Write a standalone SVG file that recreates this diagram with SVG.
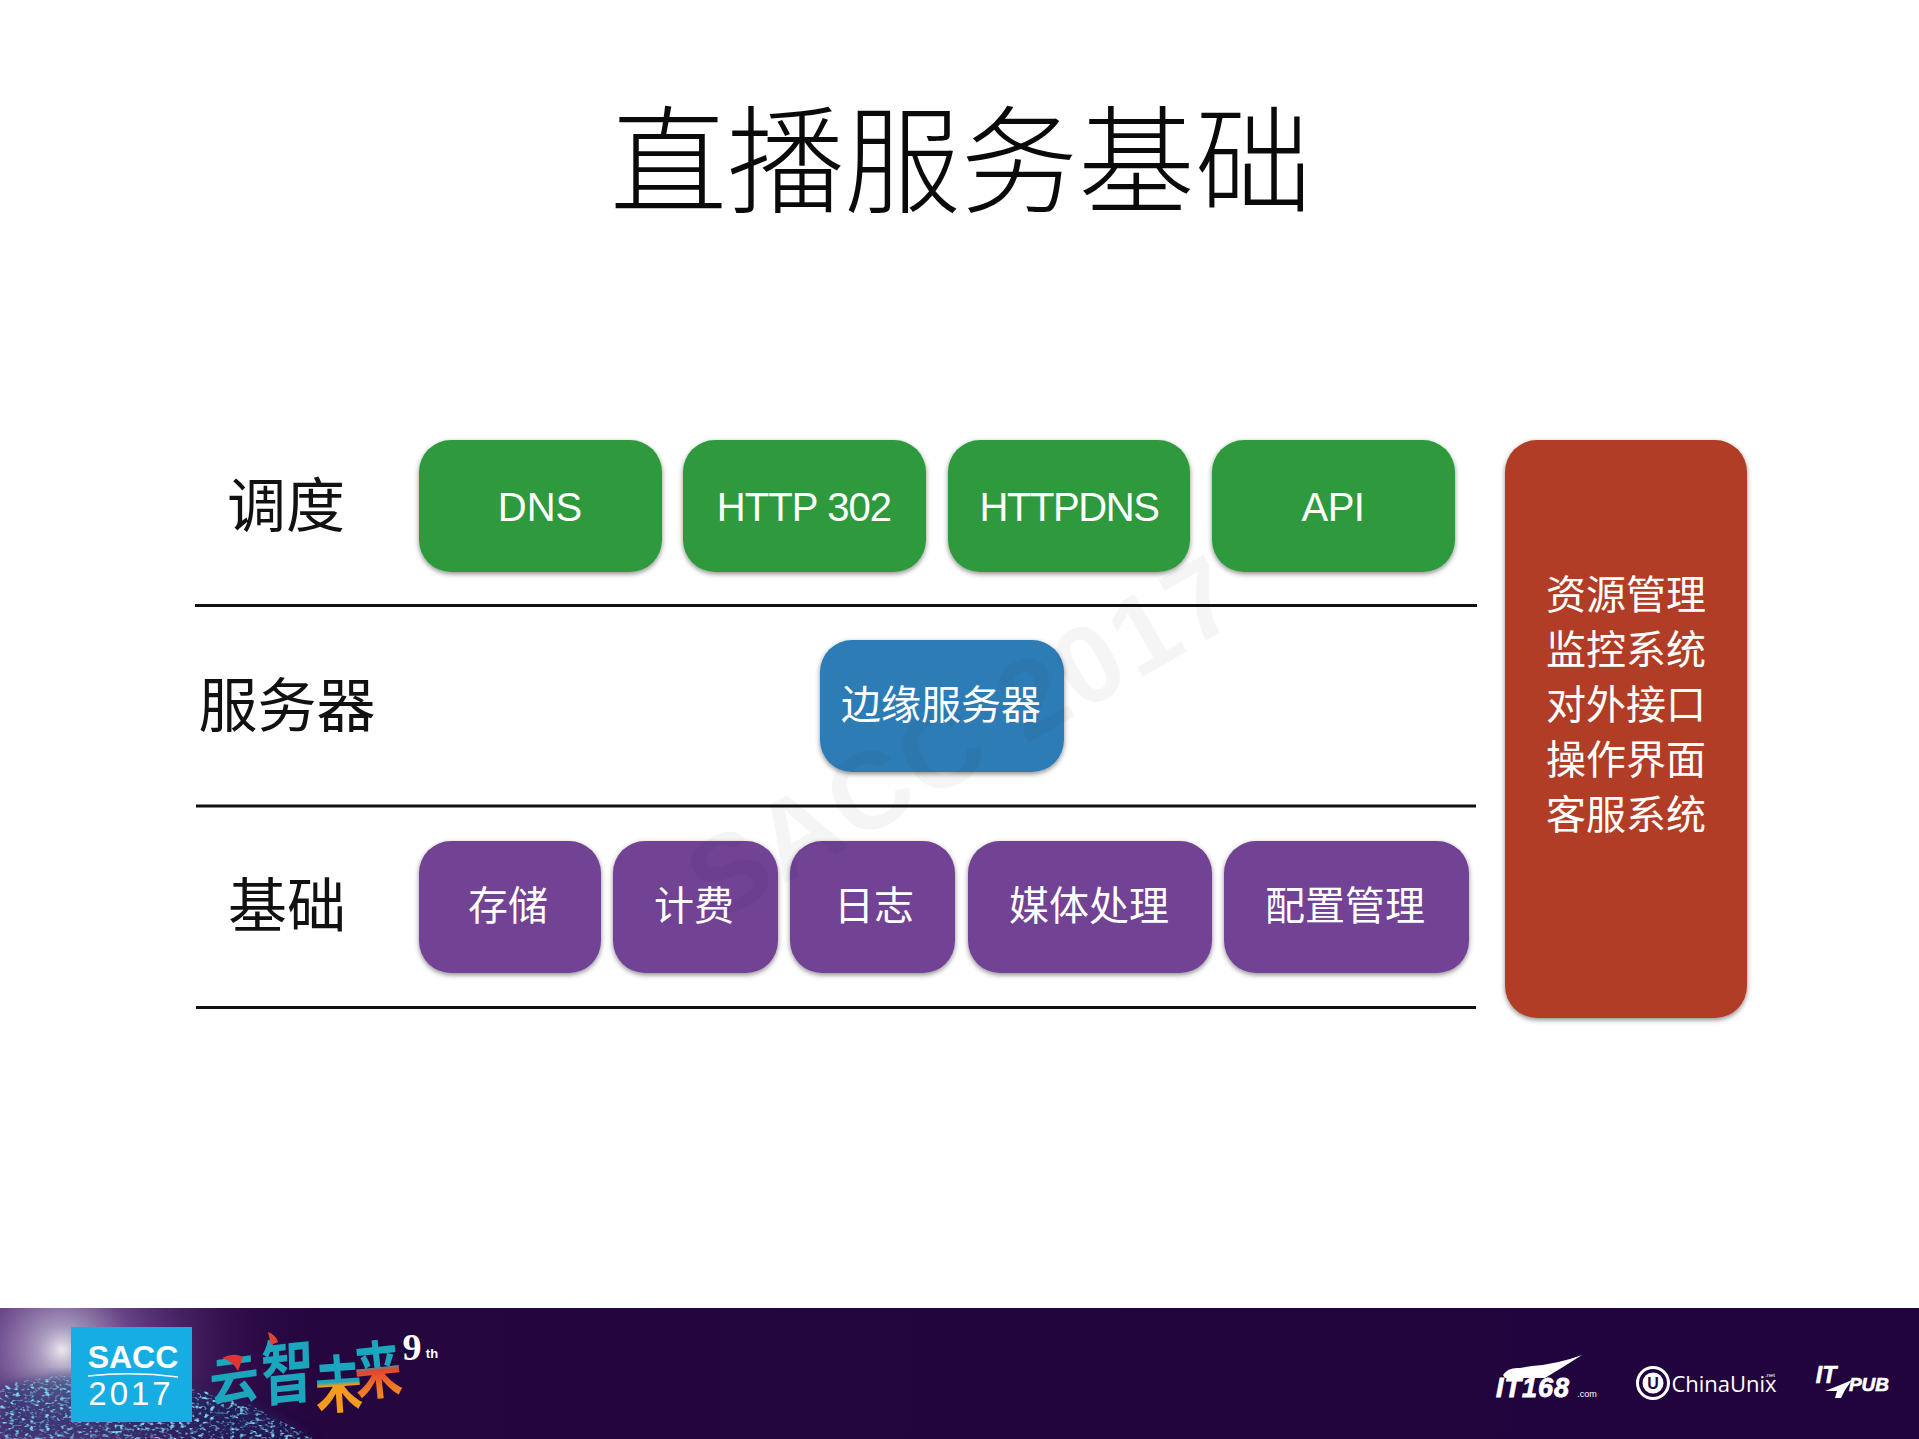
<svg xmlns="http://www.w3.org/2000/svg" width="1919" height="1439" viewBox="0 0 1919 1439">
<style>
text{font-family:"Liberation Sans","Noto Sans CJK SC",sans-serif;text-anchor:middle}
.t{font-size:40px;fill:#fff;font-family:"Noto Sans CJK SC",sans-serif;font-weight:400}
.e{font-size:40px;fill:#fff;font-family:"Liberation Sans","Noto Sans CJK SC",sans-serif}
.l{font-size:59px;fill:#111;font-family:"Noto Sans CJK SC",sans-serif;font-weight:400}
.b{filter:url(#sh)}
.g{fill:#2e9a3e}.u{fill:#2f7cb6}.p{fill:#724295}.r{fill:#b23c28}
.d{stroke:#111;stroke-width:3;fill:none}
.y{font-family:"Noto Sans CJK SC",sans-serif;font-weight:700;font-size:50px}
.w{fill:#fff}
</style>
<defs>
<filter id="sh" x="-10%" y="-10%" width="120%" height="125%"><feDropShadow dx="0" dy="2" stdDeviation="2.5" flood-color="#000" flood-opacity=".45"/></filter>
<linearGradient id="foot" x1="0" x2="1" y1="0" y2="0"><stop offset="0" stop-color="#4a2068"/><stop offset=".16" stop-color="#25063f"/><stop offset="1" stop-color="#21043d"/></linearGradient>
<radialGradient id="glow" gradientUnits="userSpaceOnUse" cx="62" cy="1350" r="200"><stop offset="0" stop-color="#fff" stop-opacity=".9"/><stop offset=".12" stop-color="#d0cbe2" stop-opacity=".7"/><stop offset=".35" stop-color="#8a6aaa" stop-opacity=".55"/><stop offset="1" stop-color="#3a1459" stop-opacity="0"/></radialGradient>
<linearGradient id="wei" x1="0" x2="0" y1="0" y2="1"><stop offset="0" stop-color="#1ba6bd"/><stop offset=".52" stop-color="#1ba6bd"/><stop offset=".56" stop-color="#f39a1f"/><stop offset="1" stop-color="#f39a1f"/></linearGradient>
<linearGradient id="lai" x1="0" x2="0" y1="0" y2="1"><stop offset="0" stop-color="#1ba6bd"/><stop offset=".5" stop-color="#1ba6bd"/><stop offset=".55" stop-color="#e2452f"/><stop offset=".75" stop-color="#ee7a25"/><stop offset="1" stop-color="#f39a1f"/></linearGradient>
<filter id="spk" x="0" y="0" width="100%" height="100%"><feTurbulence type="fractalNoise" baseFrequency=".2 .32" numOctaves="2" seed="7"/><feColorMatrix values="0 0 0 0 .2  0 0 0 0 .66  0 0 0 0 .82  3 3 0 0 -3.050"/></filter>
<filter id="bl"><feGaussianBlur stdDeviation="6"/></filter>
<clipPath id="cl"><polygon points="0,1385 60,1375 200,1390 250,1405 315,1439 0,1439"/></clipPath>
</defs>
<rect width="1919" height="1439" fill="#fff"/>

<g id="title"><text x="961" y="204" style="font-size:117px;fill:#0a0a0a;font-family:'Noto Sans CJK SC',sans-serif;font-weight:300">直播服务基础</text></g>

<g id="dividers">
<line class="d" x1="195" y1="605.500" x2="1477" y2="605.500"/>
<line class="d" x1="196" y1="806" x2="1476" y2="806"/>
<line class="d" x1="196" y1="1007.500" x2="1476" y2="1007.500"/>
</g>

<g id="label-schedule"><text class="l" x="286" y="527">调度</text></g>
<g id="label-server"><text class="l" x="287" y="727">服务器</text></g>
<g id="label-base"><text class="l" x="287" y="927">基础</text></g>

<g id="dns"><rect class="b g" x="419" y="440" width="243" height="132" rx="32"/><text class="e" x="540" y="521">DNS</text></g>
<g id="http302"><rect class="b g" x="683" y="440" width="243" height="132" rx="32"/><text class="e" x="804" y="521" letter-spacing="-.9">HTTP 302</text></g>
<g id="httpdns"><rect class="b g" x="948" y="440" width="242" height="132" rx="32"/><text class="e" x="1069" y="521" letter-spacing="-1.400">HTTPDNS</text></g>
<g id="api"><rect class="b g" x="1212" y="440" width="243" height="132" rx="32"/><text class="e" x="1333" y="521" letter-spacing="-.5">API</text></g>

<g id="edge"><rect class="b u" x="820" y="640" width="244" height="132" rx="32"/><text class="t" x="941" y="719">边缘服务器</text></g>

<g id="storage"><rect class="b p" x="419" y="841" width="182" height="132" rx="32"/><text class="t" x="508" y="920">存储</text></g>
<g id="billing"><rect class="b p" x="613" y="841" width="165" height="132" rx="32"/><text class="t" x="694" y="920">计费</text></g>
<g id="log"><rect class="b p" x="790" y="841" width="165" height="132" rx="32"/><text class="t" x="874" y="920">日志</text></g>
<g id="media"><rect class="b p" x="968" y="841" width="244" height="132" rx="32"/><text class="t" x="1089" y="920">媒体处理</text></g>
<g id="config"><rect class="b p" x="1224" y="841" width="245" height="132" rx="32"/><text class="t" x="1345" y="920">配置管理</text></g>

<g id="ops"><rect class="b r" x="1505" y="440" width="242" height="578" rx="32"/>
<text class="t" x="1626" y="609">资源管理</text>
<text class="t" x="1626" y="664">监控系统</text>
<text class="t" x="1626" y="719">对外接口</text>
<text class="t" x="1626" y="774">操作界面</text>
<text class="t" x="1626" y="829">客服系统</text></g>

<g id="watermark"><text transform="translate(962 735) rotate(-30)" x="0" y="40" style="font-size:110px;font-weight:700;fill:#000;fill-opacity:.04;letter-spacing:3px">SACC 2017</text></g>

<g id="footer">
<rect y="1308" width="1919" height="131" fill="url(#foot)"/>
<rect y="1308" width="280" height="131" fill="url(#glow)"/>
<polygon points="0,1385 60,1375 200,1390 250,1405 315,1439 0,1439" fill="#1c2a68" opacity=".55" filter="url(#bl)"/>
<rect y="1360" width="320" height="79" filter="url(#spk)" clip-path="url(#cl)"/>
<rect x="71" y="1327" width="121" height="95" fill="#16ade3"/>
<text x="133" y="1368" style="font-size:32px;font-weight:700;fill:#fff">SACC</text>
<path d="M88 1376Q133 1371 178 1377" stroke="#fff" stroke-width="1.500" fill="none"/>
<text x="131" y="1405" style="font-size:33px;fill:#fff;letter-spacing:3px">2017</text>

<text class="y" transform="translate(235 1399) rotate(-8) scale(1 1.05) skewX(-6)" fill="#1ba6bd">云</text>
<text class="y" transform="translate(288 1398) rotate(-6) scale(1.05 1.4) skewX(-6)" fill="#1ba6bd">智</text>
<text class="y" transform="translate(340 1407) rotate(-4) scale(.95 1.25)" fill="url(#wei)">未</text>
<text class="y" transform="translate(380 1393) rotate(-6) scale(.95 1.25)" fill="url(#lai)">来</text>
<path d="M222 1358Q234 1352 243 1357L238 1371Q233 1361 222 1358Z" fill="#e2352f"/>
<path d="M268 1332Q276 1335 278 1342L271 1345Z" fill="#e2452f"/>
<text x="412" y="1360" style="font-size:38px;font-weight:700;fill:#fff;font-family:'Liberation Serif',serif">9</text>
<text x="432" y="1358" style="font-size:13px;font-weight:700;fill:#fff">th</text>

<path class="w" d="M1503 1375Q1508 1367 1520 1368L1532 1366Q1558 1364 1582 1355Q1565 1366 1545 1378L1505 1378Z"/>
<text x="1533" y="1397" style="font-size:27px;font-weight:700;font-style:italic;fill:#fff;stroke:#fff;stroke-width:.8;letter-spacing:1px">IT168</text>
<text x="1587" y="1397" style="font-size:9px;fill:#fff">.com</text>
<circle cx="1653" cy="1383" r="15.500" fill="none" stroke="#fff" stroke-width="3"/>
<circle cx="1653" cy="1383" r="10.500" class="w"/>
<text x="1653" y="1389" style="font-size:16px;font-weight:700;fill:#23053f">U</text>
<text x="1724" y="1392" style="font-size:22px;fill:#fff;font-family:'Open Sans',sans-serif">ChinaUnix</text>
<text x="1770" y="1377" style="font-size:6px;fill:#fff">.net</text>
<text x="1826" y="1383" style="font-size:23px;font-weight:700;font-style:italic;fill:#fff;stroke:#fff;stroke-width:.6">IT</text>
<path class="w" d="M1825 1391Q1838 1386 1852 1380L1845 1390L1841 1398H1835L1837 1391Z"/>
<text x="1869" y="1391" style="font-size:19px;font-weight:700;font-style:italic;fill:#fff;stroke:#fff;stroke-width:.6">PUB</text>
</g>
</svg>
